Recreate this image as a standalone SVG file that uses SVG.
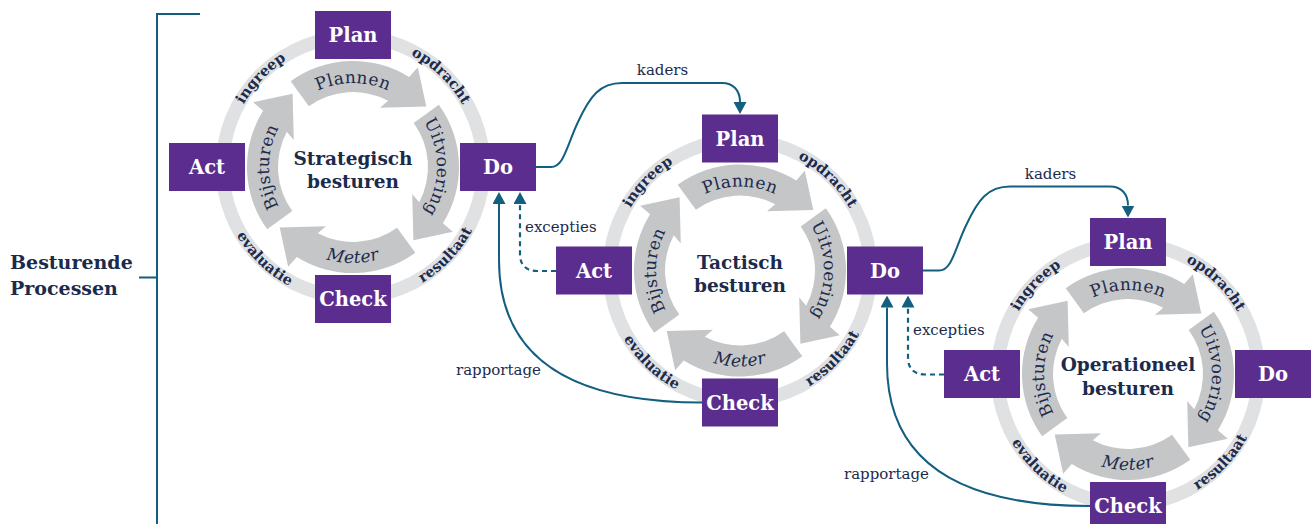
<svg xmlns="http://www.w3.org/2000/svg" width="1312" height="524" viewBox="0 0 1312 524">
<style>
.ring{fill:none;stroke:#e0e1e3;stroke-width:13.5}
.band{fill:#c5c6c8}
.box rect{fill:#5b2d8e}
.box text{fill:#ffffff;font-family:"DejaVu Serif",serif;font-weight:bold;font-size:19.5px;text-anchor:middle}
.bl{fill:#1c2b4b;font-family:"DejaVu Serif",serif;font-size:17px;letter-spacing:0.4px;text-anchor:middle}
.rl{fill:#1c2b4b;font-family:"DejaVu Serif",serif;font-weight:bold;font-size:14.5px;text-anchor:middle}
.title{fill:#1c2b4b;font-family:"DejaVu Serif",serif;font-weight:bold;font-size:18.5px;text-anchor:middle}
.conn{fill:none;stroke:#135f7f;stroke-width:2}
.dash{stroke-dasharray:5 4;stroke-width:2.2}
.cl{fill:#1c2b4b;font-family:"DejaVu Serif",serif;font-size:15px}
.brk{fill:none;stroke:#135f7f;stroke-width:2}
.side{fill:#1c2b4b;font-family:"DejaVu Serif",serif;font-weight:bold;font-size:19px}
</style>
<defs>
<path id="arr" d="M-62.3,-85.8 A106,106 0 0 1 56.2,-89.9 L64.8,-99.8 L73.3,-60.4 L27.0,-59.2 L35.2,-66.2 A75,75 0 0 0 -44.1,-60.7 Z"/>
<path id="pTop" d="M-84,0 A84,84 0 0 1 84,0"/>
<path id="pRight" d="M0,-84 A84,84 0 0 1 0,84"/>
<path id="pLeft" d="M0,84 A84,84 0 0 1 0,-84"/>
<path id="pBot" d="M-96,0 A96,96 0 0 0 96,0"/>
<path id="rTop" d="M-126,0 A126,126 0 0 1 126,0"/>
<path id="rBot" d="M-135,0 A135,135 0 0 0 135,0"/>
<marker id="ah" markerUnits="userSpaceOnUse" markerWidth="12" markerHeight="13" refX="0" refY="6.5" orient="auto" viewBox="0 0 12 13"><path d="M0,0 L12,6.5 L0,13 Z" fill="#135f7f"/></marker>
</defs>

<g id="bracket">
<path class="brk" d="M200,14 H157 V524 M139,277.5 H157"/>
<text class="side" x="10" y="269">Besturende</text>
<text class="side" x="10" y="295">Processen</text>
</g>

<g id="cycle1" transform="translate(353,167)">
<circle class="ring" r="130.5"/>
<use href="#arr" class="band"/>
<use href="#arr" class="band" transform="rotate(90)"/>
<use href="#arr" class="band" transform="rotate(180)"/>
<use href="#arr" class="band" transform="rotate(270)"/>
<text class="bl"><textPath href="#pTop" startOffset="50%">Plannen</textPath></text>
<text class="bl"><textPath href="#pRight" startOffset="50%">Uitvoering</textPath></text>
<text class="bl" font-style="italic"><textPath href="#pBot" startOffset="50%">Meter</textPath></text>
<text class="bl"><textPath href="#pLeft" startOffset="50%">Bijsturen</textPath></text>
<text class="rl"><textPath href="#rTop" startOffset="24.4%">ingreep</textPath></text>
<text class="rl"><textPath href="#rTop" startOffset="74.4%">opdracht</textPath></text>
<text class="rl"><textPath href="#rBot" startOffset="25.6%">evaluatie</textPath></text>
<text class="rl"><textPath href="#rBot" startOffset="75.8%">resultaat</textPath></text>
<text class="title"><tspan x="0" y="-2">Strategisch</tspan><tspan x="0" y="21">besturen</tspan></text>
<g id="c1-plan" class="box"><rect x="-38" y="-156" width="76" height="48"/><text x="0" y="-125">Plan</text></g>
<g id="c1-do" class="box"><rect x="107" y="-24" width="76" height="48"/><text x="145" y="7">Do</text></g>
<g id="c1-check" class="box"><rect x="-38" y="108" width="76" height="48"/><text x="0" y="139">Check</text></g>
<g id="c1-act" class="box"><rect x="-184" y="-24" width="76" height="48"/><text x="-146" y="7">Act</text></g>
</g>

<g id="cycle2" transform="translate(740,270.5)">
<circle class="ring" r="130.5"/>
<use href="#arr" class="band"/>
<use href="#arr" class="band" transform="rotate(90)"/>
<use href="#arr" class="band" transform="rotate(180)"/>
<use href="#arr" class="band" transform="rotate(270)"/>
<text class="bl"><textPath href="#pTop" startOffset="50%">Plannen</textPath></text>
<text class="bl"><textPath href="#pRight" startOffset="50%">Uitvoering</textPath></text>
<text class="bl" font-style="italic"><textPath href="#pBot" startOffset="50%">Meter</textPath></text>
<text class="bl"><textPath href="#pLeft" startOffset="50%">Bijsturen</textPath></text>
<text class="rl"><textPath href="#rTop" startOffset="24.4%">ingreep</textPath></text>
<text class="rl"><textPath href="#rTop" startOffset="74.4%">opdracht</textPath></text>
<text class="rl"><textPath href="#rBot" startOffset="25.6%">evaluatie</textPath></text>
<text class="rl"><textPath href="#rBot" startOffset="75.8%">resultaat</textPath></text>
<text class="title"><tspan x="0" y="-2">Tactisch</tspan><tspan x="0" y="21">besturen</tspan></text>
<g id="c2-plan" class="box"><rect x="-38" y="-156" width="76" height="48"/><text x="0" y="-125">Plan</text></g>
<g id="c2-do" class="box"><rect x="107" y="-24" width="76" height="48"/><text x="145" y="7">Do</text></g>
<g id="c2-check" class="box"><rect x="-38" y="108" width="76" height="48"/><text x="0" y="139">Check</text></g>
<g id="c2-act" class="box"><rect x="-184" y="-24" width="76" height="48"/><text x="-146" y="7">Act</text></g>
</g>

<g id="cycle3" transform="translate(1128,374)">
<circle class="ring" r="130.5"/>
<use href="#arr" class="band"/>
<use href="#arr" class="band" transform="rotate(90)"/>
<use href="#arr" class="band" transform="rotate(180)"/>
<use href="#arr" class="band" transform="rotate(270)"/>
<text class="bl"><textPath href="#pTop" startOffset="50%">Plannen</textPath></text>
<text class="bl"><textPath href="#pRight" startOffset="50%">Uitvoering</textPath></text>
<text class="bl" font-style="italic"><textPath href="#pBot" startOffset="50%">Meter</textPath></text>
<text class="bl"><textPath href="#pLeft" startOffset="50%">Bijsturen</textPath></text>
<text class="rl"><textPath href="#rTop" startOffset="24.4%">ingreep</textPath></text>
<text class="rl"><textPath href="#rTop" startOffset="74.4%">opdracht</textPath></text>
<text class="rl"><textPath href="#rBot" startOffset="25.6%">evaluatie</textPath></text>
<text class="rl"><textPath href="#rBot" startOffset="75.8%">resultaat</textPath></text>
<text class="title"><tspan x="0" y="-3">Operationeel</tspan><tspan x="0" y="21">besturen</tspan></text>
<g id="c3-plan" class="box"><rect x="-38" y="-156" width="76" height="48"/><text x="0" y="-125">Plan</text></g>
<g id="c3-do" class="box"><rect x="107" y="-24" width="76" height="48"/><text x="145" y="7">Do</text></g>
<g id="c3-check" class="box"><rect x="-38" y="108" width="76" height="48"/><text x="0" y="139">Check</text></g>
<g id="c3-act" class="box"><rect x="-184" y="-24" width="76" height="48"/><text x="-146" y="7">Act</text></g>
</g>

<g id="connectors">
<path class="conn" marker-end="url(#ah)" d="M536,167 L551,167 C564,167 567,145 578,122 C590,96 600,83 622,83 L722,83 C733,83 740,90 740,102"/>
<path class="conn dash" marker-end="url(#ah)" d="M556,271 L537,271 C526,271 520,265 520,254 L520,204"/>
<path class="conn" marker-end="url(#ah)" d="M702,402.5 C590,402.5 499,370 499,260 L499,204"/>
<text class="cl" x="662.5" y="75" text-anchor="middle">kaders</text>
<text class="cl" x="525" y="231.5">excepties</text>
<text class="cl" x="456" y="375">rapportage</text>

<path class="conn" marker-end="url(#ah)" d="M923,270.5 L939,270.5 C952,270.5 955,248.5 966,225.5 C978,199.5 988,186.5 1010,186.5 L1110,186.5 C1121,186.5 1128,193.5 1128,205.5"/>
<path class="conn dash" marker-end="url(#ah)" d="M944,374.5 L925,374.5 C914,374.5 908,368.5 908,357.5 L908,307.5"/>
<path class="conn" marker-end="url(#ah)" d="M1090,506 C978,506 887,473.5 887,363.5 L887,307.5"/>
<text class="cl" x="1050.5" y="178.5" text-anchor="middle">kaders</text>
<text class="cl" x="913" y="335">excepties</text>
<text class="cl" x="844" y="478.5">rapportage</text>
</g>
</svg>
